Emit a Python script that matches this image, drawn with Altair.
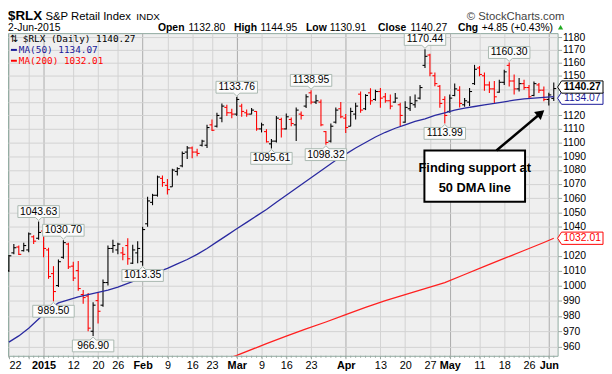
import altair as alt
import pandas as pd

# ---------------- data ----------------
opens = [1010, 1022, 1026, 1023.5, 1024, 1033, 1032, 1037, 1024, 1008,
         1000, 1019, 1028, 1013, 1010, 994, 993, 970, 990, 987,
         1002, 1025, 1024, 1022, 1027, 1015, 1022, 1016, 1042, 1057,
         1062, 1074, 1069, 1068, 1079, 1083, 1093, 1096, 1093, 1098,
         1098, 1113, 1112, 1118, 1126, 1122, 1121, 1127, 1122, 1121,
         1123, 1110, 1108, 1099, 1101, 1117, 1110, 1117, 1113, 1121,
         1127, 1137, 1130, 1130, 1108, 1101, 1115, 1125, 1118, 1112,
         1121, 1136, 1125, 1137, 1132, 1138, 1134, 1131, 1130, 1128,
         1115, 1125, 1128, 1133, 1158, 1166, 1150, 1142, 1132, 1123,
         1135, 1139, 1128, 1130, 1144, 1156, 1150, 1143, 1140, 1137.5,
         1145, 1158, 1146, 1140, 1144, 1141, 1135, 1143, 1139, 1132,
         1132.80]
highs = [1020.5, 1028, 1027, 1029, 1036, 1034, 1043.63, 1038, 1025.5, 1013,
         1017.5, 1030.70, 1029, 1016, 1016.5, 997, 995, 989, 995.5, 1004,
         1027, 1031, 1029, 1026, 1032, 1027.5, 1030, 1040, 1061, 1063,
         1076, 1076, 1073.5, 1081, 1082, 1093.5, 1097.5, 1097, 1095.5, 1102,
         1113, 1117, 1122, 1129, 1128, 1125, 1133.76, 1128.7, 1124.4, 1125.6,
         1123.3, 1114.6, 1109.8, 1102.5, 1119.5, 1118.3, 1121.5, 1118.5, 1126, 1123,
         1136, 1138.95, 1135.5, 1132, 1108.5, 1114, 1126, 1130, 1121, 1125.8,
         1129.5, 1138, 1136, 1140.5, 1139.4, 1140.6, 1136.9, 1135.7, 1136.9, 1129.5,
         1130.7, 1134.4, 1135.7, 1143, 1170.44, 1167, 1152.6, 1143, 1134.4, 1135.7,
         1144, 1142, 1133, 1140.6, 1158.4, 1157.5, 1152.6, 1145.7, 1146, 1147,
         1154.6, 1160.30, 1150.9, 1148.2, 1147, 1143, 1145.7, 1144.4, 1141.9, 1137,
         1144.95]
lows = [1009, 1021, 1020.5, 1023, 1022.5, 1028, 1031, 1019, 1004.5, 989.50,
        999, 1018, 1011, 1003, 996.5, 988, 970, 966.90, 975, 986,
        1000, 1022, 1021, 1017, 1014, 1014.5, 1015, 1013.35, 1040, 1055,
        1061, 1068, 1062.5, 1068, 1076, 1082, 1088, 1088.5, 1090, 1097,
        1096, 1108.5, 1111, 1115, 1119.5, 1118, 1119.5, 1119, 1119, 1120.8,
        1108.6, 1107.4, 1100, 1095.61, 1100, 1103.6, 1109.5, 1112, 1101, 1117,
        1125.5, 1128.3, 1128.5, 1112, 1098.32, 1100, 1114, 1118, 1107, 1112,
        1117, 1122, 1124, 1128, 1131, 1125.8, 1129.5, 1124.6, 1129.5, 1112.2,
        1114.6, 1123.3, 1125.8, 1132, 1156, 1149.6, 1142, 1125.8, 1113.99, 1122,
        1134.4, 1126, 1126.5, 1127, 1143, 1149.6, 1138.6, 1136.8, 1128.5, 1137,
        1143, 1141.9, 1135.7, 1138.1, 1139.4, 1132.8, 1134.4, 1136.9, 1130.7, 1127.5,
        1130.91]
closes = [1020, 1025.5, 1021, 1027, 1035, 1030, 1036, 1025, 1006, 996,
          1016, 1029, 1012.5, 1005, 998, 992, 972, 987, 983, 1002,
          1025, 1027, 1028, 1021, 1018, 1024, 1025, 1038, 1058, 1062,
          1075, 1071, 1066, 1080, 1081, 1092, 1096, 1093, 1092, 1101,
          1111, 1109, 1120, 1127, 1122, 1121, 1132, 1123, 1121, 1124,
          1110, 1113, 1100.5, 1101, 1118, 1110, 1119, 1114, 1124, 1120,
          1134, 1130, 1131, 1113, 1100, 1112, 1124, 1119, 1111, 1123,
          1127, 1124, 1135, 1131, 1138, 1133, 1131, 1127, 1133, 1120,
          1126, 1129, 1131, 1141, 1165, 1152, 1144, 1129, 1120, 1133,
          1140, 1129, 1131, 1138, 1155, 1151, 1143, 1140, 1134, 1145,
          1153, 1146, 1140, 1144, 1141, 1134, 1144, 1139, 1132, 1135.42,
          1140.27]

ma50_idx = [0, 2, 4, 6, 8, 10, 12, 14, 16, 18, 20, 22, 24, 26, 28, 30, 32, 34, 36, 38,
            40, 42, 44, 46, 48, 50, 52, 54, 56, 58, 60, 62, 64, 66, 68, 70, 72, 74, 76, 78,
            80, 82, 84, 86, 88, 90, 92, 94, 96, 98, 100, 102, 104, 106, 108, 110]
ma50_val = [963, 967, 972, 978, 984, 988.5, 990.5, 992.5, 994, 995.5, 997, 999, 1001.5, 1004,
            1006.5, 1009, 1011.5, 1014.5, 1017.5, 1021, 1025, 1029.5, 1034, 1038.5, 1043, 1047.5,
            1052, 1057, 1062, 1067, 1072, 1077, 1082, 1087, 1091.5, 1096, 1100, 1104, 1107.5,
            1110.5, 1113, 1115.5, 1117.5, 1120, 1122, 1124, 1125.5, 1126.7, 1128, 1129, 1130.2,
            1131.5, 1132.5, 1133, 1133.6, 1134.07]
ma200_idx = [44, 46, 50, 52, 56, 60, 64, 68, 72, 76, 80, 84, 88, 92, 96, 100, 104, 108, 110]
ma200_val = [952.5, 954.5, 959.5, 962, 966.8, 971.5, 976, 980.8, 985.5, 990, 994, 998, 1002,
             1007.4, 1012.8, 1018.2, 1023.6, 1029.1, 1032.01]

tick_idx = [0, 4, 7, 13, 18, 22, 27, 32, 37, 41, 46, 51, 56, 61, 68, 75, 80, 85, 89, 95, 100, 105, 109]
tick_lab = ["22", "", "2015", "12", "20", "26", "Feb", "9", "16", "23", "Mar", "9", "16", "23",
            "Apr", "13", "20", "27", "May", "11", "18", "26", "Jun"]
month_idx = [7, 27, 46, 68, 89, 109]
y_ticks = list(range(960, 1181, 10))
y_hidden = [1030, 1130, 1140]   # labels covered by the last-value tags

hi_idx = [6, 11, 46, 61, 84, 101]
hi_val = [1043.63, 1030.70, 1133.76, 1138.95, 1170.44, 1160.30]
lo_idx = [9, 17, 27, 53, 64, 88]
lo_val = [989.50, 966.90, 1013.35, 1095.61, 1098.32, 1113.99]

last_vals = [1140.27, 1134.07, 1032.01]

# ---------------- chart ----------------
FONT = "Liberation Sans"
MONO = "DejaVu Sans Mono"
W, H = 557, 327
xs = alt.Scale(domain=[-0.179, 110.777], nice=False, zero=False)
ys = alt.Scale(type="log", domain=[954.27, 1183.15], nice=False, zero=False)

n = len(closes)
dirs = ["up"] + ["up" if closes[k] >= closes[k - 1] else "down" for k in range(1, n)]
bars = pd.DataFrame({"i": list(range(n)), "o": opens, "h": highs, "l": lows, "c": closes, "dir": dirs})
col = alt.Color("dir:N", scale=alt.Scale(domain=["up", "down"], range=["#000000", "#FF0000"]), legend=None)

is_month = "indexof(" + str(month_idx) + ", datum.value) >= 0"
lab_expr = "[" + ",".join("'" + s + "'" for s in tick_lab) + "][indexof(" + str(tick_idx) + ", datum.value)]"
ylab_expr = "indexof(" + str(y_hidden) + ", datum.value) >= 0 ? '' : datum.label"

xaxis = alt.Axis(values=tick_idx, labelExpr=lab_expr, title=None, grid=True,
                 gridColor={"condition": {"test": is_month, "value": "#ABABAB"}, "value": "#D2D2D2"},
                 domain=False, tickSize=3, tickColor="#9AA8A2", labelFont=FONT, labelFontSize=11,
                 labelColor="#000000", labelPadding=1, labelOverlap=False, labelFlush=3,
                 labelFontWeight={"condition": {"test": is_month, "value": "bold"}, "value": "normal"})
yaxis = alt.Axis(orient="right", values=y_ticks, format="d", labelExpr=ylab_expr, title=None, grid=True,
                 gridColor="#D2D2D2", domain=False, tickSize=4, tickColor="#9AA8A2", labelFont=FONT,
                 labelFontSize=10.5, labelColor="#000000", labelPadding=1)

def X(field):
    return alt.X(field, scale=xs, axis=xaxis)

def Y(field):
    return alt.Y(field, scale=ys, axis=yaxis)

base = alt.Chart(bars)
hl = base.mark_rule(strokeWidth=1.1).encode(x=X("i:Q"), y=Y("l:Q"), y2="h:Q", color=col)
op = base.transform_calculate(io="datum.i - 0.5").mark_rule(strokeWidth=1.1).encode(
    x=X("io:Q"), x2="i:Q", y=Y("o:Q"), color=col)
cl = base.transform_calculate(ic="datum.i + 0.5").mark_rule(strokeWidth=1.1).encode(
    x=X("i:Q"), x2="ic:Q", y=Y("c:Q"), color=col)

days = pd.DataFrame({"i": list(range(n))})
dayticks = alt.Chart(days).mark_rule(color="#9AA8A2", strokeWidth=1).encode(
    x=X("i:Q"), y=alt.value(H), y2=alt.value(H + 2))

ma50 = alt.Chart(pd.DataFrame({"i": ma50_idx, "v": ma50_val})).mark_line(
    color="#2A2AA0", strokeWidth=1.3, clip=True).encode(x=X("i:Q"), y=Y("v:Q"))
ma200 = alt.Chart(pd.DataFrame({"i": ma200_idx, "v": ma200_val})).mark_line(
    color="#FF2020", strokeWidth=1.3, clip=True).encode(x=X("i:Q"), y=Y("v:Q"))

HI_PATH = "M-1,-0.714L1,-0.714L1,-0.143L0.15,-0.143L0,0L-0.15,-0.143L-1,-0.143Z"
LO_PATH = "M-1,0.714L1,0.714L1,0.143L0.15,0.143L0,0L-0.15,0.143L-1,0.143Z"
hi_df = pd.DataFrame({"i": hi_idx, "v": hi_val, "t": [f"{v:.2f}" for v in hi_val]})
lo_df = pd.DataFrame({"i": lo_idx, "v": lo_val, "t": [f"{v:.2f}" for v in lo_val]})

def ann(df, path, dy_box, dy_txt):
    b = alt.Chart(df).mark_point(shape=path, size=1764, filled=True, fill="#FBFBFB", stroke="#A9B8B0",
                                 strokeWidth=1, opacity=1, yOffset=dy_box).encode(x=X("i:Q"), y=Y("v:Q"))
    t = alt.Chart(df).mark_text(font=FONT, fontSize=10.5, color="#000", baseline="middle",
                                yOffset=dy_txt).encode(x=X("i:Q"), y=Y("v:Q"), text="t:N")
    return [b, t]

R_PATH = "M-1,0L-0.826,-0.27L1,-0.27L1,0.27L-0.826,0.27Z"
def tag(v, stroke, color, bold, dy):
    d = pd.DataFrame({"v": [v], "t": [f"{v:.2f}"]})
    b = alt.Chart(d).mark_point(shape=R_PATH, size=2116, filled=True, fill="white", stroke=stroke,
                                strokeWidth=1, opacity=1, yOffset=dy).encode(
        x=alt.value(W + 23), y=Y("v:Q"))
    t = alt.Chart(d).mark_text(font=FONT, fontSize=10.5, fontWeight="bold" if bold else "normal",
                               color=color, baseline="middle", align="center", yOffset=dy).encode(
        x=alt.value(W + 25), y=Y("v:Q"), text="t:N")
    return [b, t]

one = pd.DataFrame({"k": [0]})
def txt(s, x, y, size=11, weight="normal", color="#000", font=FONT, align="left", baseline="alphabetic"):
    return alt.Chart(pd.DataFrame({"t": [s]})).mark_text(
        font=font, fontSize=size, fontWeight=weight, color=color, align=align, baseline=baseline).encode(
        x=alt.value(x), y=alt.value(y), text="t:N")

L1, L2 = -13, -2
header = [
    txt("$RLX", 0, L1, size=13.5, weight="bold"),
    txt("S&P Retail Index", 38, L1, size=11.5),
    txt("INDX", 130, L1, size=10),
    txt("\u00a9 StockCharts.com", 564, L1, size=11.5, color="#444", align="right"),
    txt("2-Jun-2015", 0, L2, size=10.5),
    txt("Open", 152, L2, size=10.5, weight="bold"),
    txt("1132.80", 183, L2, size=10.5),
    txt("High", 229, L2, size=10.5, weight="bold"),
    txt("1144.95", 256, L2, size=10.5),
    txt("Low", 302, L2, size=10.5, weight="bold"),
    txt("1130.91", 326, L2, size=10.5),
    txt("Close", 375, L2, size=10.5, weight="bold"),
    txt("1140.27", 408, L2, size=10.5),
    txt("Chg", 456, L2, size=10.5, weight="bold"),
    txt("+4.85 (+0.43%)", 480, L2, size=10.5),
]
tri = alt.Chart(one).mark_point(shape="triangle-up", size=28, filled=True, color="#22AA22", opacity=1).encode(
    x=alt.value(560), y=alt.value(-6))

legend = [
    txt("\u21c5", 2, 6, size=10, font="DejaVu Sans", baseline="middle"),
    txt("$RLX (Daily) 1140.27", 15, 6, size=9.5, font=MONO, baseline="middle"),
    alt.Chart(one).mark_rule(color="#1A1A99", strokeWidth=2).encode(x=alt.value(3), x2=alt.value(9), y=alt.value(17)),
    txt("MA(50) 1134.07", 11, 17, size=9.5, font=MONO, color="#1A1A99", baseline="middle"),
    alt.Chart(one).mark_rule(color="#FF0000", strokeWidth=2).encode(x=alt.value(3), x2=alt.value(9), y=alt.value(28)),
    txt("MA(200) 1032.01", 11, 28, size=9.5, font=MONO, color="#FF0000", baseline="middle"),
]

# callout
callout_box = alt.Chart(one).mark_rect(fill="white", stroke="#000", strokeWidth=2).encode(
    x=alt.value(422), x2=alt.value(524), y=alt.value(119), y2=alt.value(171))
callout_txt = [
    txt("Finding support at", 473, 137, size=13, weight="bold", align="center", baseline="middle"),
    txt("50 DMA line", 473, 157, size=13, weight="bold", align="center", baseline="middle"),
]
arrow = alt.Chart(one).mark_rule(color="#000", strokeWidth=2.5).encode(
    x=alt.value(495), y=alt.value(119), x2=alt.value(539), y2=alt.value(82))
arrow_head = alt.Chart(one).mark_point(shape="triangle-up", size=110, filled=True, color="#000",
                                       opacity=1, angle=50).encode(x=alt.value(540), y=alt.value(81))

layers = [hl, op, cl, dayticks, ma50, ma200]
layers += ann(hi_df, HI_PATH, -1, -10)
layers += ann(lo_df, LO_PATH, 1, 10)
layers += tag(last_vals[2], "#FF0000", "#FF0000", False, 0)
layers += tag(last_vals[1], "#1A1A99", "#1A1A99", False, 1.5)
layers += tag(last_vals[0], "#000000", "#000000", True, -1.5)
layers += header + [tri] + legend + [callout_box] + callout_txt + [arrow, arrow_head]

chart = alt.layer(*layers).properties(
    width=W, height=H,
    padding={"left": 0, "top": 23, "right": 47, "bottom": 16},
    autosize=alt.AutoSizeParams(type="none"),
    background="white",
).configure_view(fill="#EFEFEF", stroke="#8FAAA0", strokeWidth=1)

chart.save("out.html", embed_options={"renderer": "svg", "actions": False})
